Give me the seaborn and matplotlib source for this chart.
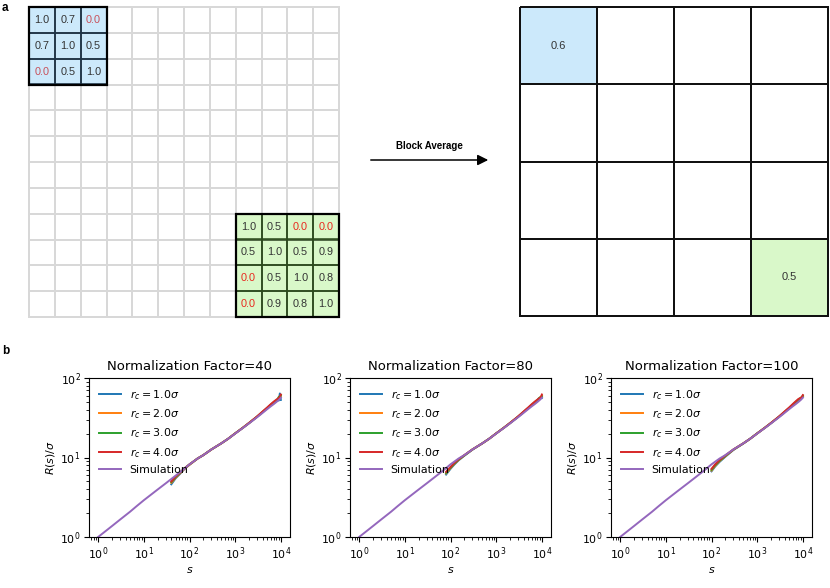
import numpy as np
import pandas as pd
import matplotlib
matplotlib.use("Agg")
import matplotlib.pyplot as plt
from matplotlib.colors import ListedColormap
from matplotlib.patches import Rectangle, FancyArrowPatch
import seaborn as sns

# ---------------- data ----------------
grid_size = 12
blue_values = [[1.0, 0.7, 0.0],
               [0.7, 1.0, 0.5],
               [0.0, 0.5, 1.0]]
green_values = [[1.0, 0.5, 0.0, 0.0],
                [0.5, 1.0, 0.5, 0.9],
                [0.0, 0.5, 1.0, 0.8],
                [0.0, 0.9, 0.8, 1.0]]
coarse_size = 4
blue_average = 0.6
green_average = 0.5

rc_labels = [r"$r_c = 1.0\sigma$", r"$r_c = 2.0\sigma$",
             r"$r_c = 3.0\sigma$", r"$r_c = 4.0\sigma$"]
norm_factors = [40, 80, 100]

sim_s = [1, 2, 3, 5, 7, 10, 20, 30, 50, 70, 100, 150, 200, 300, 500, 700,
         1000, 1500, 2000, 3000, 4000, 5000, 6000, 7000, 8000, 9000, 10000]
sim_R = [1.0, 1.37, 1.65, 2.08, 2.45, 2.9, 3.95, 4.72, 5.93, 6.9, 8.2, 9.7,
         10.7, 12.6, 15.1, 17.2, 20.0, 23.7, 26.8, 32.0, 36.5, 40.5, 44.0,
         47.0, 50.0, 53.0, 56.5]

nf40_s = [40, 50, 60, 80, 100, 150, 200, 300, 500, 700, 1000, 1500, 2000,
          3000, 4000, 5000, 6000, 7000, 8000, 8500, 9000, 9500, 10000]
nf40_rc1 = [4.6, 5.5, 6.1, 7.3, 8.1, 9.7, 10.7, 12.6, 15.1, 17.2, 20.1, 23.8,
            27.0, 32.4, 37.2, 41.5, 45.5, 48.5, 51.5, 55.0, 52.0, 64.0, 53.0]
nf40_rc2 = [4.8, 5.6, 6.2, 7.3, 8.1, 9.7, 10.7, 12.6, 15.1, 17.2, 20.1, 23.8,
            27.0, 32.5, 37.4, 41.8, 45.8, 49.0, 52.0, 54.0, 57.0, 55.0, 60.0]
nf40_rc3 = [4.9, 5.7, 6.3, 7.4, 8.2, 9.7, 10.7, 12.6, 15.1, 17.2, 20.1, 23.9,
            27.1, 32.6, 37.6, 42.0, 46.2, 49.5, 52.5, 53.5, 58.0, 56.0, 61.0]
nf40_rc4 = [5.0, 5.8, 6.35, 7.4, 8.2, 9.7, 10.7, 12.6, 15.1, 17.2, 20.1, 23.9,
            27.2, 32.8, 38.0, 42.5, 46.8, 50.5, 53.5, 54.5, 56.0, 58.5, 62.0]

nf80_s = [80, 100, 120, 150, 200, 300, 500, 700, 1000, 1500, 2000, 3000,
          4000, 5000, 6000, 7000, 8000, 8500, 9000, 9500, 10000]
nf80_rc1 = [6.1, 7.2, 8.1, 9.2, 10.5, 12.5, 15.1, 17.2, 20.1, 23.8, 27.0,
            32.4, 37.2, 41.5, 45.5, 48.8, 52.0, 55.5, 54.0, 57.5, 56.0]
nf80_rc2 = [6.3, 7.35, 8.25, 9.3, 10.6, 12.6, 15.1, 17.2, 20.1, 23.8, 27.0,
            32.5, 37.4, 41.8, 45.8, 49.2, 52.5, 54.0, 56.5, 58.0, 60.0]
nf80_rc3 = [6.4, 7.45, 8.35, 9.4, 10.6, 12.6, 15.1, 17.2, 20.1, 23.9, 27.1,
            32.6, 37.6, 42.0, 46.2, 49.6, 53.0, 54.5, 57.0, 57.0, 59.0]
nf80_rc4 = [6.6, 7.6, 8.5, 9.5, 10.7, 12.6, 15.1, 17.2, 20.1, 23.9, 27.2,
            32.8, 38.0, 42.5, 46.8, 50.5, 53.5, 55.0, 56.0, 57.5, 62.0]

nf100_s = [100, 120, 150, 200, 300, 500, 700, 1000, 1500, 2000, 3000, 4000,
           5000, 6000, 7000, 8000, 8500, 9000, 9500, 10000]
nf100_rc1 = [6.7, 7.7, 8.8, 10.2, 12.4, 15.0, 17.2, 20.1, 23.8, 27.0, 32.4,
             37.2, 41.5, 45.5, 49.0, 52.5, 54.0, 55.0, 56.5, 58.0]
nf100_rc2 = [6.85, 7.85, 9.0, 10.35, 12.5, 15.1, 17.2, 20.1, 23.8, 27.0, 32.5,
             37.4, 41.8, 45.8, 49.5, 53.0, 54.5, 56.0, 57.0, 59.0]
nf100_rc3 = [7.0, 8.0, 9.1, 10.45, 12.55, 15.1, 17.2, 20.1, 23.9, 27.1, 32.6,
             37.6, 42.0, 46.2, 50.0, 53.5, 55.0, 56.5, 57.5, 60.0]
nf100_rc4 = [7.2, 8.2, 9.3, 10.6, 12.6, 15.1, 17.2, 20.1, 23.9, 27.2, 32.8,
             38.0, 42.5, 47.0, 51.0, 54.5, 55.5, 56.0, 58.0, 61.0]

panel_s = [nf40_s, nf80_s, nf100_s]
panel_rc = [[nf40_rc1, nf40_rc2, nf40_rc3, nf40_rc4],
            [nf80_rc1, nf80_rc2, nf80_rc3, nf80_rc4],
            [nf100_rc1, nf100_rc2, nf100_rc3, nf100_rc4]]

# ---------------- style ----------------
plt.rcParams['font.family'] = ['DejaVu Sans']
plt.rcParams['font.size'] = 7.9
plt.rcParams['mathtext.fontset'] = 'dejavusans'
plt.rcParams['xtick.major.pad'] = 2.5
plt.rcParams['ytick.major.pad'] = 2.5

blue_fill = '#cce9fb'
green_fill = '#d9f8c9'
blue_edge = '#1d3447'
green_edge = '#2b4a1c'
text_col = '#333333'
helv = ['Liberation Sans', 'DejaVu Sans']

fig = plt.figure(figsize=(8.3, 5.88), dpi=100)
W, H = 830.0, 588.0

def fax(x0, y0, x1, y1):
    return fig.add_axes([x0 / W, 1 - y1 / H, (x1 - x0) / W, (y1 - y0) / H])

# ---------------- panel a: fine grid ----------------
n_blue = len(blue_values)
n_green = len(green_values)
g0 = grid_size - n_green
codes = np.zeros((grid_size, grid_size))
annot = np.full((grid_size, grid_size), '', dtype=object)
for i in range(n_blue):
    for j in range(n_blue):
        codes[i, j] = 1
        annot[i, j] = f"{blue_values[i][j]:.1f}"
for i in range(n_green):
    for j in range(n_green):
        codes[g0 + i, g0 + j] = 2
        annot[g0 + i, g0 + j] = f"{green_values[i][j]:.1f}"

cmap3 = ListedColormap(['white', blue_fill, green_fill])
axA = fax(29, 7, 339, 317)
sns.heatmap(codes, ax=axA, cmap=cmap3, vmin=-0.5, vmax=2.5, cbar=False,
            annot=annot, fmt='', linewidths=1.4, linecolor='#d8d8d8',
            xticklabels=False, yticklabels=False,
            annot_kws={'color': text_col, 'fontsize': 7.8, 'family': helv})
axA.collections[0].set_clip_on(False)
for t in axA.texts:
    x, y = t.get_position()
    r, c = int(y), int(x)
    if t.get_text() == '0.0':
        t.set_color('#c8505a' if codes[r, c] == 1 else '#e8281e')
for i in range(n_blue):
    for j in range(n_blue):
        axA.add_patch(Rectangle((j, i), 1, 1, fill=False, ec=blue_edge, lw=1.1, clip_on=False))
for i in range(n_green):
    for j in range(n_green):
        axA.add_patch(Rectangle((g0 + j, g0 + i), 1, 1, fill=False, ec=green_edge, lw=1.1, clip_on=False))
axA.add_patch(Rectangle((0, 0), n_blue, n_blue, fill=False, ec='black', lw=1.6, clip_on=False))
axA.add_patch(Rectangle((g0, g0), n_green, n_green, fill=False, ec='black', lw=1.6, clip_on=False))

# ---------------- panel a: coarse grid ----------------
ccodes = np.zeros((coarse_size, coarse_size))
cannot = np.full((coarse_size, coarse_size), '', dtype=object)
ccodes[0, 0] = 1
cannot[0, 0] = f"{blue_average:.1f}"
ccodes[-1, -1] = 2
cannot[-1, -1] = f"{green_average:.1f}"
axC = fax(520, 7, 828, 316)
sns.heatmap(ccodes, ax=axC, cmap=cmap3, vmin=-0.5, vmax=2.5, cbar=False,
            annot=cannot, fmt='', linewidths=1.3, linecolor='#111111',
            xticklabels=False, yticklabels=False, square=False,
            annot_kws={'color': text_col, 'fontsize': 8, 'family': helv})
axC.collections[0].set_clip_on(False)

# arrow + label
fig.add_artist(FancyArrowPatch((368 / W, 1 - 160 / H), (491 / W, 1 - 160 / H),
                               transform=fig.transFigure,
                               arrowstyle='-|>,head_length=0.7,head_width=0.35',
                               mutation_scale=9, lw=1.1, color='black'))
fig.text(429 / W, 1 - 146 / H, 'Block Average', ha='center', va='center',
         fontsize=7, fontweight='bold', family=helv)

fig.text(2 / W, 1 - 2 / H, 'a', ha='left', va='top', fontsize=8.5,
         fontweight='bold', family=helv)
fig.text(2 / W, 1 - 345 / H, 'b', ha='left', va='top', fontsize=8.5,
         fontweight='bold', family=helv)

# ---------------- panel b ----------------
palette = sns.color_palette('tab10')
rc_colors = palette[:4]
sim_color = palette[4]
lefts = [89, 350, 611]
for k, nf in enumerate(norm_factors):
    ax = fax(lefts[k], 378, lefts[k] + 201, 537)
    ax.set_xscale('log')
    ax.set_yscale('log')
    for m in range(4):
        sns.lineplot(x=panel_s[k], y=panel_rc[k][m], ax=ax, color=rc_colors[m],
                     label=rc_labels[m], lw=1.4)
    sns.lineplot(x=sim_s, y=sim_R, ax=ax, color=sim_color, label='Simulation', lw=1.4)
    ax.set_ylim(1, 100)
    ax.set_xlim(10 ** -0.2, 10 ** 4.2)
    ax.set_title(f'Normalization Factor={nf}', fontsize=9.5)
    ax.set_xlabel(r'$s$', labelpad=2)
    ax.set_ylabel(r'$R(s)/\sigma$', labelpad=2)
    ax.legend(loc='upper left', frameon=False)

fig.savefig('out.png', dpi=100)
